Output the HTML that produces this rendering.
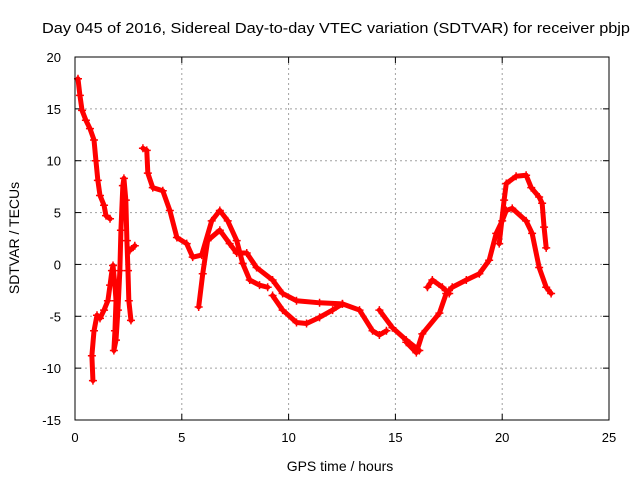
<!DOCTYPE html>
<html><head><meta charset="utf-8"><style>
body{margin:0;background:#fff}
svg{display:block;font-family:"Liberation Sans",sans-serif}
</style></head><body>
<svg id="chart" width="640" height="480" viewBox="0 0 640 480">
<text x="336" y="33" text-anchor="middle" font-size="14.5" textLength="588" lengthAdjust="spacingAndGlyphs">Day 045 of 2016, Sidereal Day-to-day VTEC variation (SDTVAR) for receiver pbjp</text>
<g id="grid"></g>
<g id="ticks"></g>
<g id="marks"></g>
<rect x="75" y="57" width="534" height="363" fill="none" stroke="#000" stroke-width="1"/>
<text x="340" y="471" text-anchor="middle" font-size="14">GPS time / hours</text>
<text x="0" y="0" transform="translate(19,238) rotate(-90)" text-anchor="middle" font-size="14">SDTVAR / TECUs</text>
</svg>
<script>
const xTicks=[0,5,10,15,20,25];
const yTicks=[20,15,10,5,0,-5,-10,-15];
const segA=[[0.14,17.9],[0.23,16.3],[0.33,14.85],[0.51,13.9],[0.70,13.1],[0.89,12.0],[0.98,10.0],[1.07,8.1],[1.17,6.65],[1.36,5.7],[1.45,4.7],[1.64,4.4]];
const segB=[[0.84,-11.2],[0.79,-8.8],[0.89,-6.4],[1.03,-4.9],[1.17,-5.2],[1.36,-4.4],[1.54,-3.5],[1.64,-2.0],[1.73,-0.6],[1.78,-0.1],[1.87,-2.0],[1.92,-3.5],[1.87,-6.4],[1.82,-8.3],[1.92,-7.3],[2.01,-4.4],[2.10,-0.6],[2.15,3.3],[2.24,7.6],[2.29,8.3],[2.38,6.2],[2.43,2.3],[2.48,-0.6],[2.52,-3.5],[2.62,-5.4]];
const segB2=[[2.57,1.35],[2.80,1.8]];
const segC=[[3.18,11.2],[3.36,11.0],[3.41,8.8],[3.64,7.4],[4.11,7.1],[4.44,5.2],[4.77,2.6],[5.23,2.0],[5.51,0.7],[5.93,0.9],[6.40,4.2],[6.78,5.2],[7.15,4.2],[7.57,2.3],[7.85,0.1],[8.18,-1.5],[8.64,-2.0],[9.02,-2.2]];
const segD=[[5.79,-4.1],[5.98,-0.9],[6.21,2.3],[6.78,3.3],[7.24,2.0],[7.57,1.1],[8.04,1.1],[8.50,-0.3],[9.25,-1.5],[9.72,-2.8],[10.37,-3.5],[11.45,-3.7],[12.52,-3.8],[13.32,-4.4],[13.93,-6.4],[14.25,-6.8],[14.58,-6.4]];
const segE=[[9.25,-3.0],[9.72,-4.4],[10.37,-5.6],[10.84,-5.7],[11.45,-5.1],[12.06,-4.4],[12.52,-3.8]];
const segF=[[14.25,-4.4],[14.86,-6.1],[15.51,-7.3],[16.12,-8.3],[15.51,-7.5],[15.98,-8.5],[16.26,-6.7],[17.06,-4.7],[17.38,-2.8],[17.66,-2.2],[18.32,-1.5],[18.93,-0.9],[19.39,0.4],[19.72,3.0],[20.00,4.2],[20.19,5.2],[20.47,5.4],[21.12,4.2],[21.40,3.0],[21.73,-0.3],[22.06,-2.2],[22.29,-2.8]];
const segG=[[16.50,-2.2],[16.73,-1.5],[17.20,-2.2],[17.52,-2.8]];
const segH=[[19.86,2.0],[20.09,6.2],[20.19,7.8],[20.65,8.5],[21.12,8.6],[21.36,7.4],[21.73,6.5],[21.87,5.9],[21.96,3.6],[22.06,1.6]];
const series=[segA,segB,segB2,segC,segD,segE,segF,segG,segH];
const X0=75,X1=609,Y0=420,Y1=57;
function sx(h){return X0+(h-0)/(25-0)*(X1-X0);}
function sy(v){return Y0-(v+15)/(35)*(Y0-Y1);}
const NS="http://www.w3.org/2000/svg";
const grid=document.getElementById('grid'),ticks=document.getElementById('ticks'),marks=document.getElementById('marks');
function mk(tag,attrs,parent){const e=document.createElementNS(NS,tag);for(const k in attrs)e.setAttribute(k,attrs[k]);parent.appendChild(e);return e;}
xTicks.forEach(t=>{
  const x=sx(t);
  if(t>0&&t<25){const g=mk('line',{x1:x,x2:x,y1:Y0,y2:Y1,stroke:'#a0a0a0','stroke-dasharray':'2,3'},grid);
  
  }
  const tl=mk('text',{x:x,y:Y0+22,'text-anchor':'middle','font-size':'13'},ticks);
  tl.textContent=t;
  
  
  mk('line',{x1:x,x2:x,y1:Y0,y2:Y0-6,stroke:'#000'},ticks);
  mk('line',{x1:x,x2:x,y1:Y1,y2:Y1+6,stroke:'#000'},ticks);
});
yTicks.forEach(t=>{
  const y=sy(t);
  if(t>-15&&t<20){const g=mk('line',{x1:X0,x2:X1,y1:y,y2:y,stroke:'#a0a0a0','stroke-dasharray':'2,3'},grid);
  
  }
  const tl=mk('text',{x:X0-14,y:y+5,'text-anchor':'end','font-size':'13'},ticks);
  tl.textContent=t;
  
  
  mk('line',{x1:X0,x2:X0+6,y1:y,y2:y,stroke:'#000'},ticks);
  mk('line',{x1:X1,x2:X1-6,y1:y,y2:y,stroke:'#000'},ticks);
});
series.forEach((s,i)=>{
  const pl=mk('polyline',{points:s.map(p=>sx(p[0])+','+sy(p[1])).join(' '),fill:'none',stroke:'#f00','stroke-width':'5','stroke-linejoin':'round','stroke-linecap':'round'},marks);
  
  
  s.forEach(p=>{
    const x=sx(p[0]),y=sy(p[1]);
    const m=mk('path',{d:`M${x-4},${y}H${x+4}M${x},${y-4}V${y+4}`,stroke:'#f00','stroke-width':'1.5'},marks);
    
    
  });
});
</script>
</body></html>
